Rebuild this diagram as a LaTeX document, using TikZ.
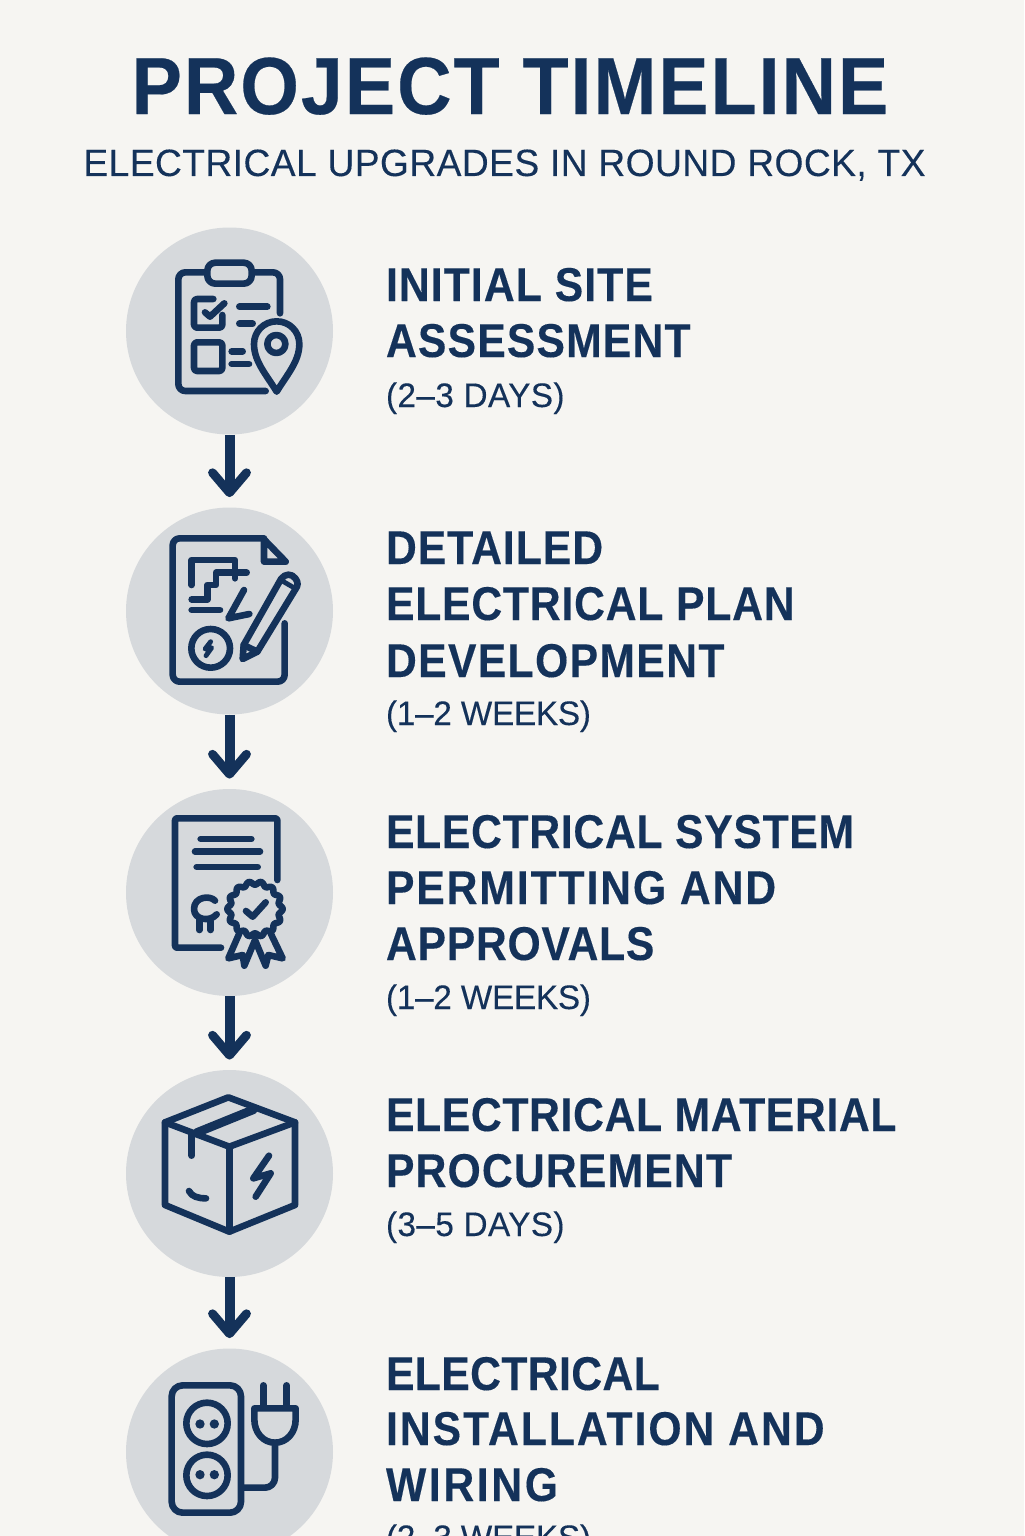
\documentclass[tikz,border=0pt]{standalone}
\usepackage{fontspec}
\usetikzlibrary{arrows.meta}
\setmainfont{Liberation Sans}
\newfontfamily\ttlfont{Liberation Sans Bold}[FakeStretch=0.93,LetterSpace=2.5,FakeBold=0.3]
\newfontfamily\hdfont{Liberation Sans Bold}[FakeStretch=0.90,FakeBold=0.25]
\newfontfamily\subfont{Liberation Sans}[FakeStretch=0.98,FakeBold=0.2]
\newcommand{\lsp}[2]{{\addfontfeature{LetterSpace=#1}#2}}
\definecolor{bgc}{HTML}{F6F5F2}
\definecolor{navy}{HTML}{14325A}
\definecolor{disc}{HTML}{D6D9DC}
\tikzset{
  disc/.style={circle,fill=disc,inner sep=0pt,minimum size=103.5pt},
  flow/.style={draw=navy,line width=5pt,shorten >=5pt,-{Straight Barb[length=10pt,width=17pt,round,line width=4.4pt]}},
  ink/.style={draw=navy,line width=3.3pt,line cap=round,line join=round},
  thin ink/.style={draw=navy,line width=2.4pt,line cap=round,line join=round},
  txt/.style={anchor=base west,inner sep=0pt,outer sep=0pt,text=navy},
  hd/.style={txt,font=\hdfont\fontsize{23.7}{28}\selectfont},
  dur/.style={txt,font=\subfont\fontsize{17}{20}\selectfont},
  icon/.style={x=0.166667pt,y=-0.166667pt}
}
\begin{document}
\begin{tikzpicture}[x=0.5pt,y=-0.5pt]
\useasboundingbox (0,0) rectangle (1024,1536);
\clip (0,0) rectangle (1024,1536);
\fill[bgc] (0,0) rectangle (1024,1536);

% title
\node[anchor=base,inner sep=0pt,text=navy,font=\ttlfont\fontsize{40.5}{48}\selectfont] (title) at (510,114) {PROJECT TIMELINE};
\node[anchor=base,inner sep=0pt,text=navy,font=\subfont\fontsize{19}{23}\selectfont] (subtitle) at (504.5,176) {\lsp{1.05}{ELECTRICAL UPGRADES IN ROUND ROCK, TX}};

% discs
\node[disc] (c1) at (229.5,331) {};
\node[disc] (c2) at (229.5,611) {};
\node[disc] (c3) at (229.5,892.5) {};
\node[disc] (c4) at (229.5,1173.5) {};
\node[disc] (c5) at (229.5,1452) {};

% connectors
\draw[flow] (c1) -- (c2);
\draw[flow] (c2) -- (c3);
\draw[flow] (c3) -- (c4);
\draw[flow] (c4) -- (c5);

% texts
\node[hd] (t1a) at (386,301) {\lsp{2.3}{INITIAL SITE}};
\node[hd] (t1b) at (386,357) {\lsp{2.5}{ASSESSMENT}};
\node[dur] (t1c) at (386,407) {\lsp{1.2}{(2–3 DAYS)}};
\node[hd] (t2a) at (386,564) {\lsp{2.1}{DETAILED}};
\node[hd] (t2b) at (386,620) {\lsp{1.7}{ELECTRICAL PLAN}};
\node[hd] (t2c) at (386,677) {\lsp{2.9}{DEVELOPMENT}};
\node[dur] (t2d) at (386,725) {\lsp{-0.8}{(1–2 WEEKS)}};
\node[hd] (t3a) at (386,848) {\lsp{1.5}{ELECTRICAL SYSTEM}};
\node[hd] (t3b) at (386,904) {\lsp{4}{PERMITTING AND}};
\node[hd] (t3c) at (386,960) {\lsp{1.6}{APPROVALS}};
\node[dur] (t3d) at (386,1009) {\lsp{-0.8}{(1–2 WEEKS)}};
\node[hd] (t4a) at (386,1131) {\lsp{1.4}{ELECTRICAL MATERIAL}};
\node[hd] (t4b) at (386,1187) {\lsp{2.5}{PROCUREMENT}};
\node[dur] (t4c) at (386,1236) {\lsp{1.2}{(3–5 DAYS)}};
\node[hd] (t5a) at (386,1390) {\lsp{0.85}{ELECTRICAL}};
\node[hd] (t5b) at (386,1445) {\lsp{4.2}{INSTALLATION AND}};
\node[hd] (t5c) at (386,1501) {\lsp{5.6}{WIRING}};
\node[dur] (t5d) at (386,1549) {\lsp{-0.8}{(2–3 WEEKS)}};

% icon 1: clipboard and pin
\begin{scope}[shift={(120,225)},icon]
\draw[ink,rounded corners=3.5pt] (258,142) -- (175,142) -- (175,498) -- (437,498);
\draw[ink,rounded corners=3.5pt] (400,142) -- (480,142) -- (480,265);
\draw[ink,rounded corners=4pt] (262,113) rectangle (395,176);
\draw[ink,rounded corners=1.5pt] (280,222) -- (222,222) -- (222,308) -- (307,308) -- (307,270);
\draw[ink] (255,262) -- (270,275) -- (313,235);
\draw[ink] (358,245) -- (442,245);
\draw[ink] (358,296) -- (398,296);
\draw[ink,rounded corners=1.5pt] (222,352) rectangle (307,438);
\draw[ink] (335,379) -- (368,379);
\draw[ink] (335,417) -- (387,417);
\draw[ink] (470,500) .. controls (440,450) and (402,410) .. (402,357)
  .. controls (402,319) and (432,289) .. (470,289)
  .. controls (508,289) and (538,319) .. (538,357)
  .. controls (538,410) and (500,450) .. (470,500) -- cycle;
\draw[ink] (469,357) circle[radius=27];
\end{scope}

% icon 2: plan and pencil
\begin{scope}[shift={(120,505)},icon]
\draw[ink,rounded corners=3.5pt] (494,355) -- (494,530) -- (158,530) -- (158,100) -- (432,100);
\draw[ink] (432,103) -- (497,170) -- (432,170) -- cycle;
\draw[ink] (215,240) -- (215,165) -- (345,165) -- (345,220);
\draw[ink] (215,283) -- (262,283) -- (262,240) -- (288,240) -- (288,203) -- (380,203);
\draw[ink] (215,315) -- (300,315);
\draw[ink] (372,255) -- (325,340) -- (388,327);
\draw[ink] (272,430) circle[radius=58];
\draw[thin ink] (272,410) -- (255,432) -- (275,428) -- (258,452);
\draw[ink] (368,462) -- (371,420) -- (483,222) .. controls (495,205) and (515,205) .. (526,220) .. controls (536,232) and (533,243) .. (528,250) -- (412,440) -- cycle;
\draw[ink] (371,420) -- (412,440);
\draw[thin ink] (482,225) -- (525,250);
\end{scope}

% icon 3: certificate and rosette
\begin{scope}[shift={(120,785)},icon]
\draw[ink,rounded corners=1pt] (472,285) -- (472,100) -- (165,100) -- (165,488) -- (303,488);
\draw[ink] (242,162) -- (394,162);
\draw[ink] (225,200) -- (420,200);
\draw[ink] (230,246) -- (413,246);
\draw[ink] (285,347) .. controls (270,330) and (222,335) .. (222,372) .. controls (222,405) and (270,412) .. (290,388);
\draw[ink] (238,400) -- (238,435);
\draw[ink] (272,408) -- (272,435);
\draw[ink] plot[domain=0:360,samples=145,smooth] ({405+(78+5*cos(14*\x))*cos(\x)},{372+(78+5*cos(14*\x))*sin(\x)}) -- cycle;
\draw[ink] (378,378) -- (398,395) -- (437,352);
\draw[ink] (358,445) -- (325,520) -- (368,510) -- (373,542) -- (405,465) -- (437,542) -- (445,510) -- (488,520) -- (452,445);
\end{scope}

% icon 4: box
\begin{scope}[shift={(120,1065)},icon]
\draw[ink] (325,97) -- (525,172) -- (525,420) -- (328,500) -- (135,420) -- (135,172) -- cycle;
\draw[ink] (135,172) -- (328,245) -- (525,172);
\draw[ink] (328,245) -- (328,500);
\draw[draw=navy,line width=4.4pt,line cap=round] (230,203) -- (400,134);
\draw[ink] (215,205) -- (215,272);
\draw[ink] (207,378) .. controls (215,395) and (235,400) .. (258,400);
\draw[ink] (447,272) -- (400,340) -- (452,325) -- (407,395);
\end{scope}

% icon 5: socket strip and plug
\begin{scope}[shift={(120,1336)},icon]
\draw[ink,rounded corners=5.5pt] (155,148) rectangle (363,530);
\draw[ink] (261,262) circle[radius=62];
\draw[ink] (261,418) circle[radius=62];
\fill[navy] (240,264) circle[radius=14] (283,264) circle[radius=14] (240,416) circle[radius=14] (283,416) circle[radius=14];
\draw[ink] (430,148) -- (430,215);
\draw[ink] (500,148) -- (500,215);
\draw[ink] (403,217) -- (527,217) -- (527,250) .. controls (527,290) and (500,320) .. (465,320) .. controls (430,320) and (403,290) .. (403,250) -- cycle;
\draw[ink,rounded corners=5pt] (465,320) -- (465,455) -- (370,455);
\end{scope}
\end{tikzpicture}
\end{document}
